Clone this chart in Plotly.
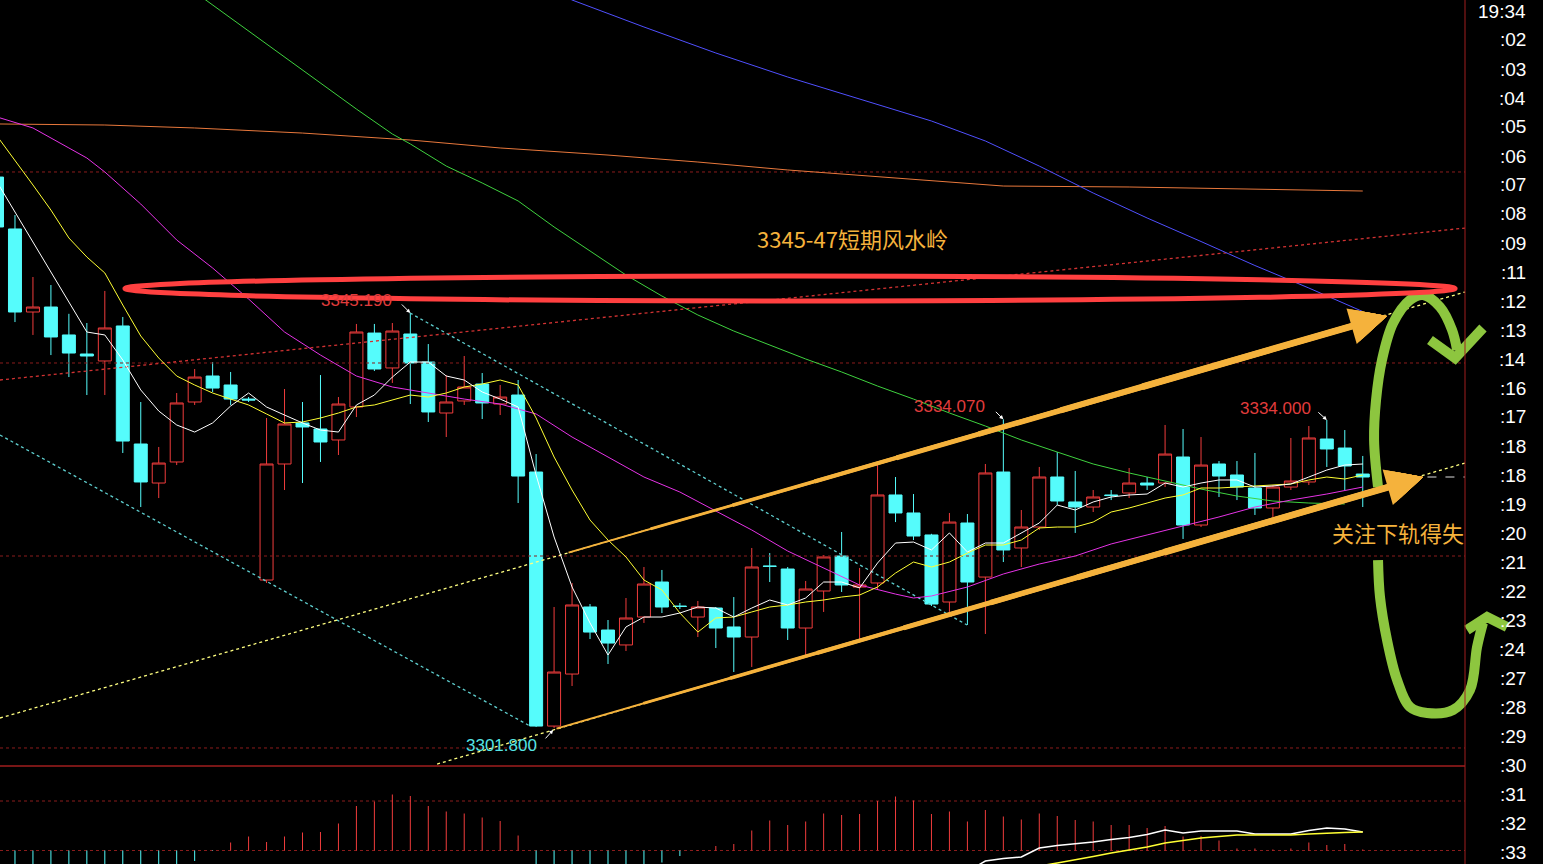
import plotly.graph_objects as go

# ---------------- data ----------------
idx = list(range(77))

open_ = [3359.40, 3353.97, 3345.29, 3345.81, 3342.89, 3340.90, 3340.17, 3343.83, 3331.49, 3327.41,
         3329.61, 3335.88, 3338.60, 3337.66, 3336.19, 3317.27, 3329.40, 3333.69, 3333.06, 3331.91,
         3335.36, 3343.09, 3339.44, 3342.99, 3340.06, 3334.73, 3335.99, 3337.76, 3335.67, 3336.61,
         3328.56, 3302.00, 3307.44, 3314.45, 3312.04, 3310.48, 3313.40, 3317.06, 3314.55, 3313.40,
         3314.34, 3312.36, 3311.31, 3318.73, 3318.42, 3312.25, 3316.12, 3319.78, 3316.54, 3316.96,
         3326.16, 3324.28, 3321.98, 3314.97, 3323.23, 3317.58, 3328.56, 3320.62, 3322.81, 3328.04,
         3325.43, 3324.90, 3326.16, 3326.37, 3327.41, 3327.41, 3330.13, 3323.02, 3329.40, 3328.25,
         3326.89, 3324.80, 3326.99, 3327.52, 3332.01, 3331.07, 3328.35]
high = [3359.93, 3355.43, 3348.95, 3348.11, 3345.10, 3344.14, 3347.49, 3344.77, 3335.88, 3331.18,
        3336.82, 3339.33, 3340.06, 3339.02, 3336.40, 3334.21, 3337.24, 3335.88, 3338.70, 3336.40,
        3344.04, 3344.04, 3344.14, 3345.19, 3341.94, 3338.70, 3340.69, 3338.91, 3337.66, 3338.18,
        3330.44, 3314.45, 3316.96, 3314.76, 3313.09, 3315.39, 3318.63, 3318.32, 3314.87, 3315.08,
        3314.45, 3315.49, 3320.62, 3320.09, 3318.63, 3317.17, 3319.88, 3322.29, 3318.53, 3329.40,
        3328.04, 3326.26, 3322.10, 3324.28, 3324.17, 3329.40, 3334.07, 3324.59, 3329.09, 3330.65,
        3328.67, 3326.68, 3326.68, 3328.98, 3328.04, 3333.48, 3333.06, 3332.22, 3329.71, 3329.71,
        3330.55, 3327.20, 3332.12, 3333.37, 3334.00, 3332.95, 3330.24]
low = [3353.86, 3344.24, 3342.89, 3340.79, 3338.49, 3336.61, 3336.61, 3330.55, 3324.90, 3325.84,
       3329.29, 3335.57, 3336.93, 3335.57, 3335.88, 3316.96, 3326.68, 3327.41, 3329.61, 3330.34,
       3334.31, 3339.12, 3337.87, 3335.67, 3333.79, 3332.22, 3335.57, 3334.10, 3334.52, 3325.32,
       3301.90, 3301.80, 3306.19, 3311.10, 3308.49, 3309.85, 3312.78, 3313.82, 3314.24, 3311.31,
       3310.16, 3307.65, 3308.18, 3317.06, 3311.00, 3309.22, 3313.93, 3316.02, 3311.00, 3316.23,
       3323.33, 3321.45, 3314.55, 3313.93, 3312.57, 3311.63, 3319.15, 3318.63, 3322.50, 3325.11,
       3322.19, 3324.38, 3325.63, 3325.84, 3326.68, 3326.99, 3321.56, 3322.81, 3325.95, 3325.63,
       3324.07, 3323.86, 3326.68, 3327.20, 3329.09, 3326.68, 3324.90]
close = [3354.18, 3345.29, 3345.81, 3342.68, 3341.00, 3340.69, 3343.62, 3331.80, 3327.52, 3329.50,
         3335.78, 3338.49, 3337.34, 3336.19, 3336.09, 3329.40, 3333.58, 3333.27, 3331.70, 3335.67,
         3343.20, 3339.33, 3343.30, 3339.96, 3334.84, 3335.88, 3337.45, 3335.78, 3336.40, 3328.14,
         3302.00, 3307.65, 3314.66, 3311.83, 3310.68, 3313.30, 3316.85, 3314.45, 3314.50, 3314.45,
         3312.25, 3311.31, 3318.63, 3318.70, 3312.25, 3316.33, 3319.68, 3316.75, 3316.75, 3326.16,
         3324.28, 3321.87, 3314.76, 3323.33, 3317.06, 3328.46, 3320.41, 3322.81, 3328.04, 3325.53,
         3324.90, 3325.95, 3326.10, 3327.41, 3327.20, 3330.44, 3323.02, 3329.29, 3328.14, 3326.99,
         3324.80, 3326.99, 3327.62, 3332.12, 3330.97, 3329.19, 3328.04]

ma_white = [3358.88, 3355.75, 3352.61, 3349.47, 3346.34, 3343.20, 3342.89, 3340.27, 3337.14, 3334.94,
            3333.48, 3332.74, 3333.69, 3335.46, 3336.82, 3335.36, 3334.52, 3333.69, 3332.95, 3332.74,
            3335.57, 3336.61, 3338.49, 3340.06, 3340.06, 3338.60, 3338.18, 3336.93, 3336.19, 3335.36,
            3328.25, 3321.77, 3316.54, 3312.78, 3309.43, 3312.36, 3313.40, 3313.40, 3313.82, 3314.45,
            3314.34, 3313.40, 3314.34, 3315.18, 3314.66, 3315.39, 3317.06, 3317.06, 3316.44, 3319.05,
            3321.14, 3321.24, 3320.41, 3322.19, 3320.20, 3321.14, 3321.14, 3322.19, 3323.23, 3325.11,
            3324.59, 3325.43, 3325.95, 3326.16, 3326.26, 3327.41, 3326.99, 3327.41, 3327.73, 3327.73,
            3326.99, 3327.10, 3327.31, 3328.04, 3328.77, 3329.29, 3329.40]
ma_yellow = [3363.69, 3361.18, 3358.57, 3355.95, 3353.03, 3351.04, 3349.37, 3346.02, 3342.78, 3340.48,
             3338.60, 3337.66, 3336.82, 3336.19, 3335.57, 3334.63, 3333.69, 3333.79, 3334.21, 3334.73,
             3335.36, 3335.57, 3336.09, 3336.61, 3336.40, 3336.82, 3337.45, 3337.76, 3338.18, 3337.66,
             3334.21, 3330.13, 3326.68, 3323.54, 3321.45, 3319.68, 3317.27, 3316.23, 3313.82, 3311.83,
             3313.30, 3313.40, 3313.93, 3314.45, 3314.66, 3314.97, 3315.18, 3315.49, 3315.70, 3316.54,
             3318.00, 3319.15, 3318.63, 3319.15, 3320.09, 3320.93, 3320.93, 3321.45, 3322.71, 3322.81,
             3322.81, 3323.33, 3324.38, 3324.80, 3325.32, 3325.84, 3326.16, 3326.89, 3326.89, 3326.99,
             3327.10, 3327.20, 3327.31, 3327.73, 3328.04, 3327.83, 3328.25]

ma_magenta_x = [0, 2, 4, 5, 6, 8, 10, 12, 14, 16, 18, 20, 22, 24, 26, 28, 30, 32, 34, 36, 38,
                40, 42, 44, 46, 48, 50, 51, 52, 54, 56, 58, 60, 62, 64, 66, 68, 70, 72, 74, 76]
ma_magenta = [3365.68, 3364.53, 3362.44, 3361.39, 3359.93, 3356.58, 3352.82, 3349.89, 3346.65, 3343.20,
              3340.79, 3338.60, 3337.45, 3336.82, 3336.19, 3335.67, 3334.63, 3332.22, 3330.13, 3328.04,
              3326.47, 3324.49, 3322.50, 3320.30, 3318.53, 3316.75, 3315.80, 3315.39, 3315.60, 3316.54,
              3317.90, 3318.94, 3319.78, 3321.04, 3321.98, 3322.92, 3323.86, 3324.90, 3325.63, 3326.26,
              3326.99]
ma_green_x = [11, 12, 14, 16, 18, 20, 22, 23, 25, 27, 29, 31, 33, 35, 37, 39, 41, 43, 45, 47,
              49, 51, 53, 55, 57, 59, 61, 63, 65, 67, 69, 71, 73, 75]
ma_green = [3378.75, 3377.39, 3374.67, 3371.95, 3369.23, 3366.51, 3363.90, 3362.86, 3360.55, 3358.78,
            3356.90, 3354.18, 3351.67, 3349.16, 3346.96, 3344.98, 3343.30, 3341.84, 3340.38, 3339.02,
            3337.55, 3336.19, 3334.73, 3333.37, 3331.91, 3330.65, 3329.40, 3328.46, 3327.62, 3326.78,
            3326.05, 3325.53, 3325.32, 3325.22]
ma_blue_x = [31, 32, 36, 40, 44, 48, 52, 55, 58, 61, 64, 67, 70, 73, 76]
ma_blue = [3378.96, 3377.91, 3375.09, 3372.37, 3369.86, 3367.56, 3365.26, 3363.17, 3360.55, 3357.73,
           3355.12, 3352.66, 3350.15, 3347.80, 3345.34]
ma_orange_x = [0, 6, 11, 17, 23, 28, 34, 39, 44, 50, 56, 63, 70, 76]
ma_orange = [3364.95, 3364.84, 3364.53, 3364.00, 3363.27, 3362.44, 3361.70, 3360.97, 3360.14, 3359.30,
             3358.46, 3358.36, 3358.15, 3357.94]

macd_hist = [-0.50, -0.60, -0.62, -0.58, -0.55, -0.52, -0.48, -0.50, -0.55, -0.50,
             -0.40, -0.21, -0.01, 0.16, 0.28, 0.17, 0.28, 0.36, 0.37, 0.54,
             0.89, 0.98, 1.12, 1.09, 0.89, 0.78, 0.74, 0.66, 0.59, 0.30,
             -0.50, -0.85, -0.90, -0.85, -0.75, -0.60, -0.45, -0.24, -0.11, 0.01,
             0.09, 0.13, 0.40, 0.60, 0.51, 0.58, 0.74, 0.71, 0.73, 0.99,
             1.08, 1.00, 0.73, 0.78, 0.58, 0.81, 0.68, 0.62, 0.74, 0.69,
             0.61, 0.58, 0.51, 0.51, 0.45, 0.49, 0.28, 0.29, 0.20, 0.04,
             0.04, 0.02, 0.04, 0.16, 0.11, 0.13, 0.02]
dif_x = list(range(53, 77))
dif = [-0.60, -0.42, -0.21, -0.16, -0.13, 0.05, 0.10, 0.13, 0.17, 0.22, 0.26, 0.32,
       0.41, 0.35, 0.39, 0.39, 0.39, 0.33, 0.33, 0.33, 0.40, 0.45, 0.43, 0.37]
dea_x = list(range(57, 77))
dea = [-0.40, -0.31, -0.25, -0.19, -0.12, -0.05, 0.01, 0.07, 0.15, 0.20,
       0.25, 0.28, 0.31, 0.31, 0.31, 0.31, 0.33, 0.35, 0.36, 0.37]

grid_prices = [3299.71, 3319.78, 3339.96, 3359.93]
macd_grid = [0.0, 0.99]

right_labels = ["19:34", ":02", ":03", ":04", ":05", ":06", ":07", ":08", ":09", ":11",
                ":12", ":13", ":14", ":16", ":17", ":18", ":18", ":19", ":20", ":21",
                ":22", ":23", ":24", ":27", ":28", ":29", ":30", ":31", ":32", ":33"]

# analyst drawings (index, price)
upper_channel = ([0.167, 81.69], [3302.84, 3347.38])
lower_channel = ([24.49, 81.69], [3298.03, 3329.50])
cyan_channel_a = ([0.167, 29.66], [3332.43, 3302.01])
cyan_channel_b = ([22.98, 53.98], [3345.19, 3312.57])
red_slope = ([0.167, 81.69], [3338.18, 3354.07])
upper_arrow = ((31.72, 3320.09), (77.35, 3344.87))
lower_arrow = ((31.05, 3301.69), (79.36, 3328.04))
ellipse = (7.12, 81.14, 3346.44, 3349.05)
green_up_x = [76.85, 76.63, 76.74, 77.07, 77.69, 78.63, 79.36, 80.30, 80.97, 81.25]
green_up_y = [3326.99, 3331.91, 3336.09, 3340.27, 3344.14, 3346.54, 3347.07, 3345.81, 3343.41, 3341.32]
green_up_hook_x = [79.74, 81.14, 82.69]
green_up_hook_y = [3342.36, 3340.48, 3343.62]
green_dn_x = [76.85, 76.96, 77.35, 77.91, 78.63, 79.58, 81.02, 81.97, 82.36, 82.69]
green_dn_y = [3319.36, 3315.49, 3311.00, 3306.82, 3303.99, 3303.37, 3303.68, 3305.77, 3310.27, 3312.78]
green_dn_hook_x = [81.80, 82.92, 84.03]
green_dn_hook_y = [3312.04, 3313.40, 3312.36]

# ---------------- styling ----------------
RED = "#f03c3c"
CYAN = "#55fcfc"
GRID = "#8a1c1c"
FRAME = "#a01e1e"
ORANGE = "#f5b23c"
GREEN = "#8dc63f"
X_RANGE = [0.167, 86.03]
X_EDGE = 81.69
Y_RANGE = [3297.93, 3377.91]
Y2_RANGE = [-0.27, 1.69]

fig = go.Figure()

# dotted price grid lines (main and MACD panes)
for p in grid_prices:
    fig.add_trace(go.Scatter(x=[X_RANGE[0], X_EDGE], y=[p, p], mode="lines",
                             line=dict(color=GRID, width=1, dash="dot"), hoverinfo="skip"))
for v in macd_grid:
    fig.add_trace(go.Scatter(x=[X_RANGE[0], X_EDGE], y=[v, v], mode="lines", yaxis="y2",
                             line=dict(color=GRID, width=1, dash="dot"), hoverinfo="skip"))

# dotted trend / channel lines
for (xs, ys), col in [(red_slope, "#d23232"), (cyan_channel_a, "#5fcfcf"), (cyan_channel_b, "#5fcfcf"),
                      (upper_channel, "#ffff80"), (lower_channel, "#ffff80")]:
    fig.add_trace(go.Scatter(x=xs, y=ys, mode="lines",
                             line=dict(color=col, width=1.3, dash="dot"), hoverinfo="skip"))

# candles
fig.add_trace(go.Candlestick(
    x=idx, open=open_, high=high, low=low, close=close,
    increasing=dict(line=dict(color=RED, width=1), fillcolor="#000000"),
    decreasing=dict(line=dict(color=CYAN, width=1), fillcolor=CYAN),
    whiskerwidth=0, hoverinfo="none"))

# moving averages
for xs, ys, col in [(ma_orange_x, ma_orange, "#e8783c"), (ma_blue_x, ma_blue, "#5050ff"),
                    (ma_green_x, ma_green, "#3fd23f"), (ma_magenta_x, ma_magenta, "#e633e6"),
                    (idx, ma_yellow, "#ffff33"), (idx, ma_white, "#ffffff")]:
    fig.add_trace(go.Scatter(x=xs, y=ys, mode="lines", line=dict(color=col, width=1),
                             hoverinfo="skip"))

# last price dashed marker
fig.add_trace(go.Scatter(x=[79.6, X_EDGE], y=[close[-1], close[-1]], mode="lines",
                         line=dict(color="#dddddd", width=1, dash="dash"), hoverinfo="skip"))

# MACD histogram as thin sticks
rx, ry, cx, cy = [], [], [], []
for i, v in zip(idx, macd_hist):
    if v >= 0:
        rx += [i, i, None]; ry += [0, v, None]
    else:
        cx += [i, i, None]; cy += [0, v, None]
fig.add_trace(go.Scatter(x=rx, y=ry, mode="lines", yaxis="y2", line=dict(color=RED, width=1),
                         hoverinfo="skip"))
fig.add_trace(go.Scatter(x=cx, y=cy, mode="lines", yaxis="y2", line=dict(color=CYAN, width=1),
                         hoverinfo="skip"))
fig.add_trace(go.Scatter(x=dif_x, y=dif, mode="lines", yaxis="y2", line=dict(color="#ffffff", width=1.5),
                         hoverinfo="skip"))
fig.add_trace(go.Scatter(x=dea_x, y=dea, mode="lines", yaxis="y2", line=dict(color="#ffff33", width=1.5),
                         hoverinfo="skip"))

# hand-drawn green strokes
for xs, ys, shape in [(green_up_x, green_up_y, "spline"), (green_up_hook_x, green_up_hook_y, "linear"),
                      (green_dn_x, green_dn_y, "spline"), (green_dn_hook_x, green_dn_hook_y, "linear")]:
    fig.add_trace(go.Scatter(x=xs, y=ys, mode="lines",
                             line=dict(color=GREEN, width=10, shape=shape), hoverinfo="skip"))

shapes = [
    dict(type="circle", xref="x", yref="y", x0=ellipse[0], x1=ellipse[1], y0=ellipse[2], y1=ellipse[3],
         line=dict(color="#ff4040", width=5), layer="above"),
    dict(type="line", xref="x", yref="paper", x0=X_EDGE, x1=X_EDGE, y0=0, y1=1,
         line=dict(color=FRAME, width=1)),
    dict(type="line", xref="x", yref="paper", x0=X_RANGE[0], x1=X_EDGE, y0=98 / 864, y1=98 / 864,
         line=dict(color=FRAME, width=1.5)),
]

annotations = []
# orange channel arrows, drawn as tapering strokes (thin at the tail, thick at the head)
taper = [(0.0, 2.0), (0.1, 2.8), (0.2, 3.5), (0.3, 4.2), (0.4, 4.9), (0.5, 5.5), (0.6, 6.1), (0.7, 6.7)]
for (tail, head) in [upper_arrow, lower_arrow]:
    for frac, w in taper:
        sx = tail[0] + (head[0] - tail[0]) * frac
        sy = tail[1] + (head[1] - tail[1]) * frac
        annotations.append(dict(x=head[0], y=head[1], ax=sx, ay=sy, xref="x", yref="y",
                                axref="x", ayref="y", text="", showarrow=True, arrowhead=2,
                                arrowsize=1.1, arrowwidth=w, arrowcolor=ORANGE))

# price labels with little pointers
label_font = dict(family="Liberation Sans, Arial", size=17)
for txt, lx, ly, col, px, py, ax, ay in [
        ("3345.190", 20.03, 3346.54, "#e03c3c", 23, 3345.19, -10, -10),
        ("3334.070", 53.03, 3335.36, "#e03c3c", 56, 3334.07, -9, -9),
        ("3334.000", 71.12, 3335.25, "#e03c3c", 74, 3334.00, -10, -9),
        ("3301.800", 28.05, 3300.02, "#55e5e5", 30.95, 3301.6, -9, 10)]:
    annotations.append(dict(x=lx, y=ly, xref="x", yref="y", text=txt, showarrow=False,
                            font=dict(color=col, **label_font)))
    annotations.append(dict(x=px, y=py, xref="x", yref="y", ax=ax, ay=ay, text="", showarrow=True,
                            arrowhead=2, arrowsize=0.8, arrowwidth=1, arrowcolor="#ffffff"))

cjk = dict(family="Noto Sans CJK SC", size=22, color=ORANGE)
annotations.append(dict(x=47.58, y=3353.03, xref="x", yref="y", text="3345-47短期风水岭",
                        showarrow=False, font=cjk))
annotations.append(dict(x=77.96, y=3322.29, xref="x", yref="y", text="关注下轨得失",
                        showarrow=False, font=cjk))

# right-hand column of labels
for k, t in enumerate(right_labels):
    annotations.append(dict(x=1528 / 1543, y=1 - (11 + 29 * k) / 864, xref="paper", yref="paper",
                            text=t, showarrow=False, xanchor="right", yanchor="middle",
                            font=dict(family="Liberation Sans, Arial", size=19, color="#ffffff")))

fig.update_layout(
    width=1543, height=864, margin=dict(l=0, r=0, t=0, b=0, pad=0),
    paper_bgcolor="#000000", plot_bgcolor="#000000", showlegend=False,
    boxgap=0.15, boxgroupgap=0.15,
    xaxis=dict(range=X_RANGE, showgrid=False, zeroline=False, showticklabels=False,
               showline=False, ticks="", rangeslider=dict(visible=False), fixedrange=True),
    yaxis=dict(range=Y_RANGE, domain=[99 / 864, 1], showgrid=False, zeroline=False,
               showticklabels=False, showline=False, ticks=""),
    yaxis2=dict(range=Y2_RANGE, domain=[0, 98 / 864], anchor="x", showgrid=False, zeroline=False,
                showticklabels=False, showline=False, ticks=""),
    shapes=shapes, annotations=annotations, hovermode=False,
)

fig.write_html("out.html", config={"displayModeBar": False},
               post_script="document.body.style.margin='0';document.body.style.overflow='hidden';")
